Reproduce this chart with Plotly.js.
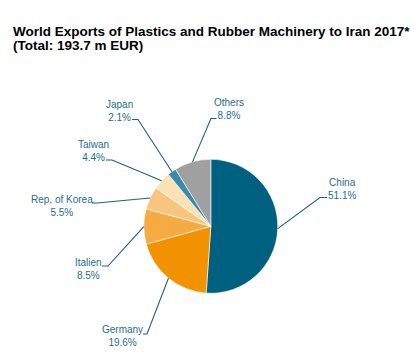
<!DOCTYPE html>
<html>
<head>
<meta charset="utf-8">
<script src="https://cdn.plot.ly/plotly-3.0.1.min.js"></script>
<style>html,body{margin:0;padding:0;background:#fff;}#chart{width:418px;height:359px;}</style>
</head>
<body>
<div id="chart"></div>
<script>
// ---- data ----
const countries = ["China", "Germany", "Italien", "Rep. of Korea", "Taiwan", "Japan", "Others"];
const shares = [51.1, 19.6, 8.5, 5.5, 4.4, 2.1, 8.8];
const shareLabels = ["51.1%", "19.6%", "8.5%", "5.5%", "4.4%", "2.1%", "8.8%"];
const titleLines = ["World Exports of Plastics and Rubber Machinery to Iran 2017*", "(Total: 193.7 m EUR)"];

// ---- styling / layout (pixels) ----
const W = 418, H = 359;
const sliceColors = ["#00607f", "#f39200", "#f5aa42", "#f8c57e", "#fbe1b6", "#3a8ca6", "#a0a0a0"];
const cx = 210.8, cy = 226.3, R = 67;
const titleY = [31.5, 45.5];
// label placement: text centre, knee point, end of short horizontal stub
const labelPos = [
  {tx: 342, ty: 189,   kx: 320, ky: 197.5, ex: 327},
  {tx: 122, ty: 336,   kx: 147, ky: 334,   ex: 143},
  {tx: 88,  ty: 268.5, kx: 108, ky: 266,   ex: 102},
  {tx: 62,  ty: 206,   kx: 97,  ky: 203,   ex: 92},
  {tx: 93,  ty: 150.5, kx: 112, ky: 160,   ex: 106},
  {tx: 119, ty: 110.5, kx: 138, ky: 119.5, ex: 132},
  {tx: 229, ty: 109,   kx: 211, ky: 118.5, ex: 216.5}
];
const labelColor = "#1f6e8e";
const lineColor = "#1d6180";
const fontFam = "Liberation Sans, Arial, sans-serif";

const px = x => x / W;
const py = y => 1 - y / H;

const total = shares.reduce((a, b) => a + b, 0);
let cum = 0;
const shapes = [], annotations = [];
shares.forEach((v, i) => {
  const mid = (cum + v / 2) / total * 2 * Math.PI;
  cum += v;
  const exX = cx + R * Math.sin(mid);
  const exY = cy - R * Math.cos(mid);
  const L = labelPos[i];
  shapes.push({
    type: "path", xref: "paper", yref: "paper",
    path: `M ${px(exX)} ${py(exY)} L ${px(L.kx)} ${py(L.ky)} L ${px(L.ex)} ${py(L.ky)}`,
    line: {color: lineColor, width: 1.1}
  });
  annotations.push({
    xref: "paper", yref: "paper", x: px(L.tx), y: py(L.ty),
    xanchor: "center", yanchor: "middle", showarrow: false, align: "center",
    text: countries[i] + "<br>" + shareLabels[i],
    font: {family: fontFam, size: 10, color: labelColor}
  });
});
titleLines.forEach((t, i) => {
  annotations.push({
    xref: "paper", yref: "paper", x: px(10.5), y: py(titleY[i]),
    xanchor: "left", yanchor: "middle", showarrow: false, align: "left",
    text: "<b>" + t + "</b>",
    font: {family: fontFam, size: 13.5, color: "#000000"}
  });
});

const trace = {
  type: "pie",
  labels: countries,
  values: shares,
  sort: false,
  direction: "clockwise",
  rotation: 0,
  textinfo: "none",
  hoverinfo: "label+percent",
  marker: {colors: sliceColors, line: {color: "#ffffff", width: 0.6}},
  domain: {x: [px(cx - R), px(cx + R)], y: [py(cy + R), py(cy - R)]},
  showlegend: false
};

const layout = {
  width: W, height: H,
  margin: {l: 0, r: 0, t: 0, b: 0},
  paper_bgcolor: "#ffffff",
  showlegend: false,
  shapes: shapes,
  annotations: annotations
};

Plotly.newPlot("chart", [trace], layout, {displayModeBar: false, staticPlot: true});
</script>
</body>
</html>
